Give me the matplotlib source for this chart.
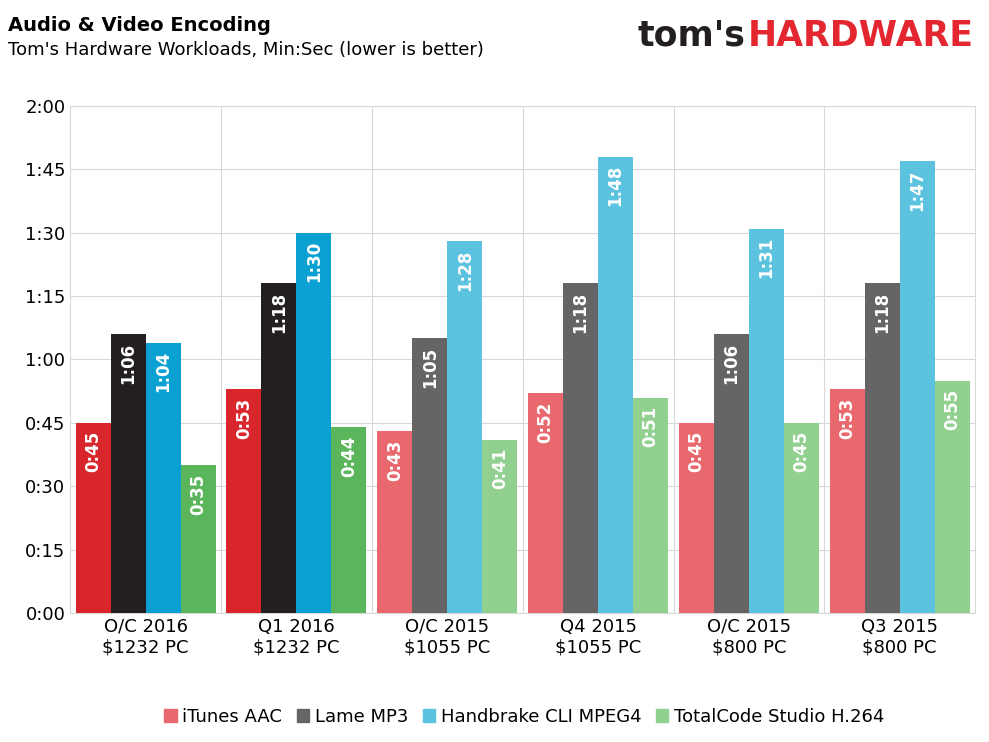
import matplotlib
matplotlib.use("Agg")
import matplotlib.pyplot as plt
import numpy as np
from matplotlib.patches import Patch

groups = ["O/C 2016\n$1232 PC", "Q1 2016\n$1232 PC", "O/C 2015\n$1055 PC",
          "Q4 2015\n$1055 PC", "O/C 2015\n$800 PC", "Q3 2015\n$800 PC"]
series = ["iTunes AAC", "Lame MP3", "Handbrake CLI MPEG4", "TotalCode Studio H.264"]
itunes = [45, 53, 43, 52, 45, 53]
lame = [66, 78, 65, 78, 66, 78]
handbrake = [64, 90, 88, 108, 91, 107]
totalcode = [35, 44, 41, 51, 45, 55]
values = [itunes, lame, handbrake, totalcode]

dark = ["#D9252C", "#231F20", "#0AA0D2", "#5BB55B"]
light = ["#E8686E", "#666464", "#5BC2E0", "#92D08F"]


def mmss(s):
    return f"{int(s) // 60}:{int(s) % 60:02d}"


fig = plt.figure(figsize=(9.89, 7.42), dpi=100)
ax = fig.add_axes([0.071, 0.174, 0.915, 0.683])

w = 0.232
x = np.arange(len(groups))
for i, vals in enumerate(values):
    cols = [dark[i] if g < 2 else light[i] for g in range(len(groups))]
    pos = x + (i - 1.5) * w
    ax.bar(pos, vals, width=w, color=cols, zorder=3)
    for p, v in zip(pos, vals):
        ax.annotate(mmss(v), (p, v), xytext=(0, -6), textcoords="offset points",
                    rotation=90, ha="center", va="top", color="white",
                    fontsize=12, fontweight="bold", zorder=4)

ax.set_xlim(-0.5, len(groups) - 0.5)
ax.set_ylim(0, 120)
ax.set_yticks(range(0, 121, 15))
ax.set_yticklabels([mmss(t) for t in range(0, 121, 15)], fontsize=13)
ax.set_xticks(x)
ax.set_xticklabels(groups, fontsize=13)
ax.set_xticks(np.arange(0.5, len(groups) - 1, 1), minor=True)
ax.grid(axis="y", color="#d9d9d9", lw=0.8, zorder=0)
ax.grid(axis="x", which="minor", color="#d9d9d9", lw=0.8, zorder=0)
ax.tick_params(length=0, which="both")
for s in ax.spines.values():
    s.set_color("#d9d9d9")

fig.text(0.008, 0.965, "Audio & Video Encoding", fontsize=14, fontweight="bold", va="center")
fig.text(0.008, 0.932, "Tom's Hardware Workloads, Min:Sec (lower is better)", fontsize=13, va="center")

# logo: HARDWARE flush right, tom's placed just left of it
hw = fig.text(0.985, 0.952, "HARDWARE", fontsize=25, fontweight="bold", color="#E3262F",
              va="center", ha="right")
fig.canvas.draw()
bb = hw.get_window_extent().transformed(fig.transFigure.inverted())
fig.text(bb.x0 - 0.003, 0.952, "tom's", fontsize=25, fontweight="bold", color="#231F20",
         va="center", ha="right")

handles = [Patch(color=light[i]) for i in range(4)]
fig.legend(handles, series, loc="lower center", bbox_to_anchor=(0.53, 0.0), ncol=4,
           frameon=False, fontsize=13, handlelength=0.7, handleheight=0.7,
           handletextpad=0.3, columnspacing=0.8)

fig.savefig("out.png")
